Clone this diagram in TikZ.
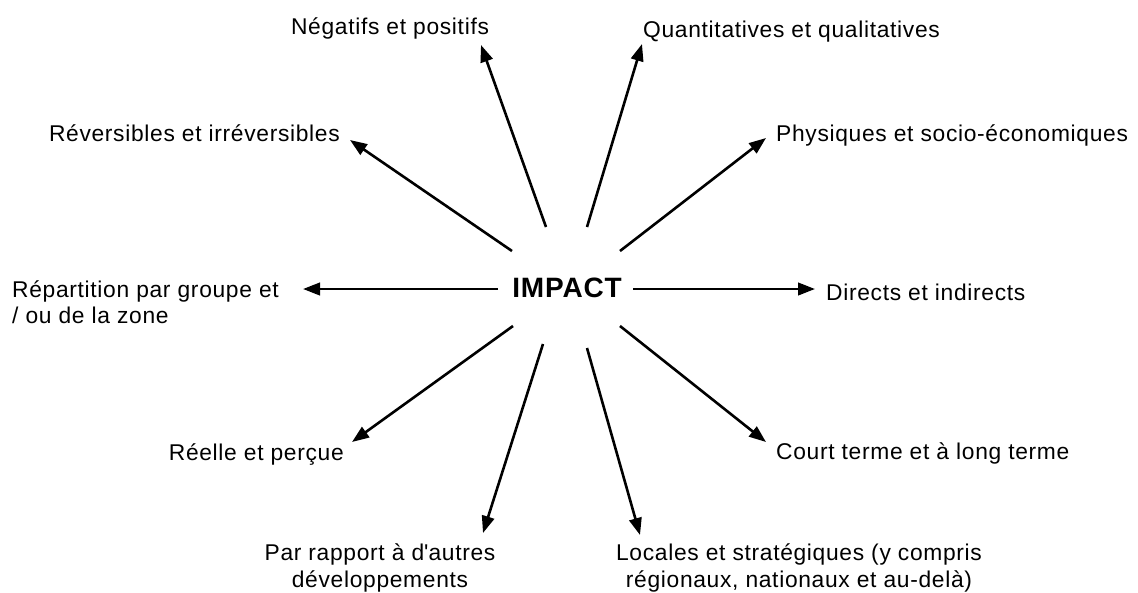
\documentclass[tikz,border=0pt]{standalone}
\usepackage{fontspec}
\setmainfont[LetterSpace=3]{Liberation Sans}
\usetikzlibrary{arrows.meta,positioning}

\begin{document}
\begin{tikzpicture}
            [x=1pt,y=-1pt,
             lbl/.style ={inner sep=0pt,font=\fontsize{22.8}{26.5}\selectfont},
             arr/.style ={line width=2.6pt,-{Triangle[length=17pt,width=12.5pt]}}]
            \useasboundingbox (0,0) rectangle (1138,592);
            \node[font=\fontsize{28}{32}\selectfont\bfseries] (impact) at (567,288){IMPACT};
            \node[lbl] (neg) at (390,28){Négatifs et positifs};
            \node[lbl][anchor=west] (quant) at (643,32){Quantitatives et qualitatives};
            \node[lbl][anchor=east] (rev) at (340,133){Réversibles et irréversibles};
            \node[lbl][anchor=west] (phys) at (776,135){Physiques et socio-économiques};
            \node[lbl][anchor=west,align=left] (rep) at (12,302){Répartition par groupe et\\/ ou de la zone};
            \node[lbl][anchor=west] (dir) at (826,292){Directs et indirects};
            \node[lbl][anchor=east] (reel) at (344,455){Réelle et perçue};
            \node[lbl][anchor=west] (court) at (776,453){Court terme et à long terme};
            \node[lbl][align=center] (par) at (380,568){Par rapport à d\textquotesingle autres\\développements};
            \node[lbl][align=center] (loc) at (799,568){Locales et stratégiques (y compris\\régionaux, nationaux et au-delà)};
            % arrow ends
            \coordinate (s1) at (546,227); \coordinate (t1) at (481,45);
            \coordinate (s2) at (587,227); \coordinate (t2) at (642,44);
            \coordinate (s3) at (512,251); \coordinate (t3) at (350,140);
            \coordinate (s4) at (620,251); \coordinate (t4) at (766,138);
            \coordinate (s5) at (498,289); \coordinate (t5) at (303,289);
            \coordinate (s6) at (633,289); \coordinate (t6) at (815,289);
            \coordinate (s7) at (513,326); \coordinate (t7) at (352,442);
            \coordinate (s8) at (620,326); \coordinate (t8) at (766,442);
            \coordinate (s9) at (543,344); \coordinate (t9) at (483,533);
            \coordinate (s10) at (587,348); \coordinate (t10) at (640,535);
            \draw[arr] (s1) -- (t1);
            \draw[arr] (s2) -- (t2);
            \draw[arr] (s3) -- (t3);
            \draw[arr] (s4) -- (t4);
            \draw[arr] (s5) -- (t5);
            \draw[arr] (s6) -- (t6);
            \draw[arr] (s7) -- (t7);
            \draw[arr] (s8) -- (t8);
            \draw[arr] (s9) -- (t9);
            \draw[arr] (s10) -- (t10);
        \end{tikzpicture}
\end{document}
